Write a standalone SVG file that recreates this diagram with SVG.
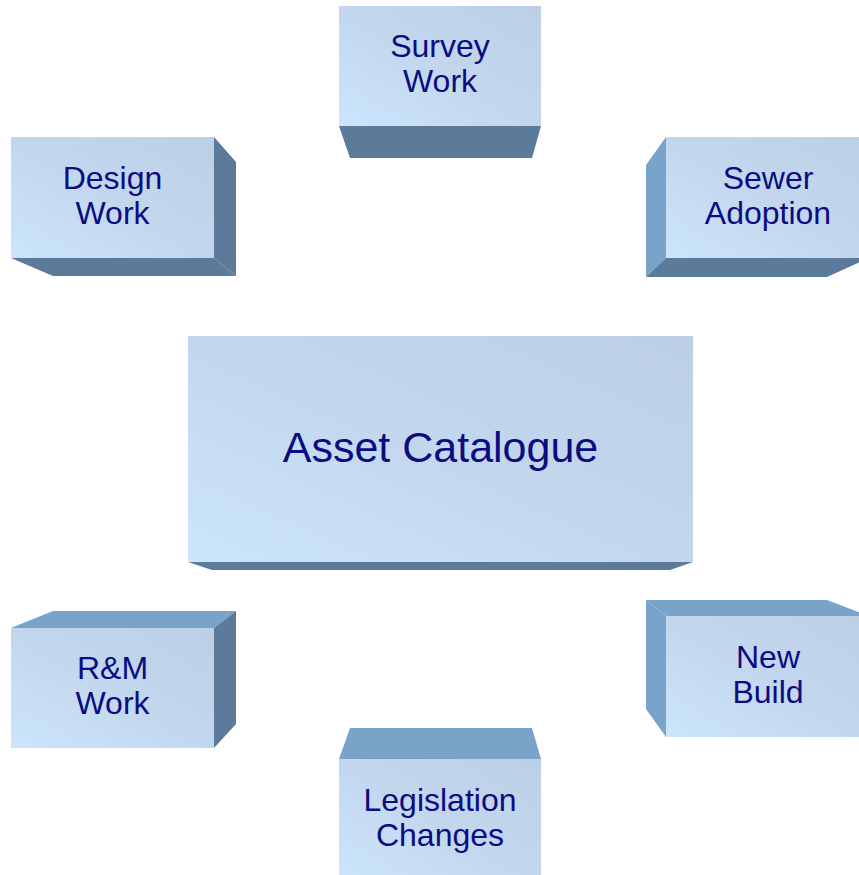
<svg xmlns="http://www.w3.org/2000/svg" width="859" height="875" viewBox="0 0 859 875">
  <defs>
    <linearGradient id="face" x1="0" y1="1" x2="1" y2="0">
      <stop offset="0" stop-color="#cce5fc"/>
      <stop offset="0.5" stop-color="#c2d7ee"/>
      <stop offset="1" stop-color="#bccfe5"/>
    </linearGradient>
  </defs>
  <style>
    .face { fill: url(#face); }
    .dark { fill: #5c7a99; }
    .light { fill: #7aa3ca; }
    .lbl { font-family: "Liberation Sans", Arial, sans-serif; font-size: 32px; fill: #0c0c82; text-anchor: middle; }
    .big { font-size: 43px; }
  </style>
  <rect width="859" height="875" fill="#ffffff"/>
  <g id="connectors"/>

  <g id="survey-work">
    <polygon class="dark" points="339,126 541,126 532,158 350,158"/>
    <rect class="face" x="339" y="6" width="202" height="120"/>
    <text class="lbl" x="440" y="57">Survey</text>
    <text class="lbl" x="440" y="92">Work</text>
  </g>

  <g id="design-work">
    <polygon class="dark" points="11,258 214,258 236,276 53,276"/>
    <polygon class="dark" points="214,137 236,162 236,276 214,258"/>
    <rect class="face" x="11" y="137" width="203" height="121"/>
    <text class="lbl" x="112.5" y="188.5">Design</text>
    <text class="lbl" x="112.5" y="223.5">Work</text>
  </g>

  <g id="sewer-adoption">
    <polygon class="light" points="666,137 646,165 646,277 666,258"/>
    <polygon class="dark" points="646,277 666,258 869,258 827,277"/>
    <rect class="face" x="666" y="137" width="203" height="121"/>
    <text class="lbl" x="768" y="188.5">Sewer</text>
    <text class="lbl" x="768" y="223.5">Adoption</text>
  </g>

  <g id="asset-catalogue">
    <polygon class="dark" points="188,562 693,562 670,570 212,570"/>
    <rect class="face" x="188" y="336" width="505" height="226"/>
    <text class="lbl big" x="440.5" y="462">Asset Catalogue</text>
  </g>

  <g id="rm-work">
    <polygon class="light" points="11,628 214,628 236,611 53,611"/>
    <polygon class="dark" points="214,628 236,611 236,724 214,748"/>
    <rect class="face" x="11" y="628" width="203" height="120"/>
    <text class="lbl" x="112.5" y="679">R&amp;M</text>
    <text class="lbl" x="112.5" y="714">Work</text>
  </g>

  <g id="new-build">
    <polygon class="light" points="646,600 666,616 666,737 646,709"/>
    <polygon class="light" points="646,600 827,600 869,616 666,616"/>
    <rect class="face" x="666" y="616" width="203" height="121"/>
    <text class="lbl" x="768" y="668">New</text>
    <text class="lbl" x="768" y="703">Build</text>
  </g>

  <g id="legislation-changes">
    <polygon class="light" points="339,759 541,759 532,728 350,728"/>
    <rect class="face" x="339" y="759" width="202" height="121"/>
    <text class="lbl" x="440" y="811">Legislation</text>
    <text class="lbl" x="440" y="846">Changes</text>
  </g>
</svg>
